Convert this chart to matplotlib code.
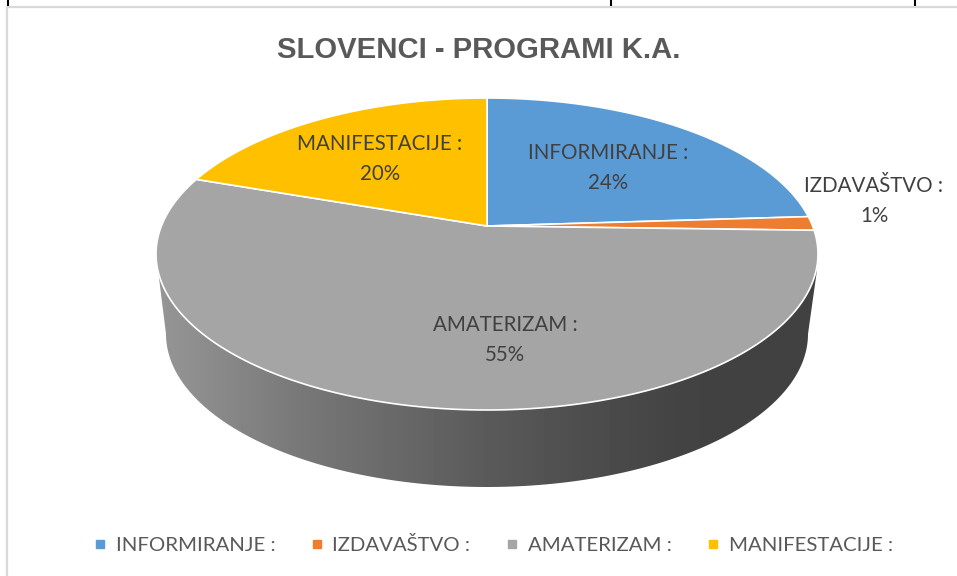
import numpy as np
import matplotlib.pyplot as plt
from matplotlib.lines import Line2D
from matplotlib.patches import Polygon

names = ['INFORMIRANJE :', 'IZDAVAŠTVO :', 'AMATERIZAM :', 'MANIFESTACIJE :']
values = [24.0, 1.45, 54.85, 19.7]
colors = ['#5B9BD5', '#ED7D31', '#A5A5A5', '#FFC000']
label_pos = [(608, 168), (874, 201), (505, 340), (380, 159)]
title = 'SLOVENCI - PROGRAMI K.A.'

W, H = 957, 576
# perspective view of the pie top: apex at (cx, cy), far rim up, near rim down
cx, cy = 487, 226
ax_r, by_r, k = 325.6, 110.4, 0.1795


def rim(theta):
    # theta in degrees clockwise from the top of the pie
    t = np.radians(theta)
    X, Y = np.sin(t), np.cos(t)
    w = 1 + k * Y
    return cx + ax_r * X / w, (cy - by_r * Y) / w


plt.rcParams['font.family'] = ['Lato', 'DejaVu Sans']
fig = plt.figure(figsize=(W / 100, H / 100), dpi=100)
ax = fig.add_axes([0, 0, 1, 1])

# side wall with horizontal gradient
t = np.radians(np.linspace(0, 180, 200))
low_x = 487 - 321 * np.cos(t)
low_y = 334 + 153 * np.sin(t)
wall = np.vstack([[[158, 270]], np.column_stack([low_x, low_y]), [[817, 270]], [[487, 254]]])
gx = np.arange(150, 830)
shade = np.interp(gx, [158, 300, 400, 487, 580, 680, 820], [150, 120, 104, 90, 78, 67, 65]) / 255
im = ax.imshow(shade[None, :], cmap='gray', vmin=0, vmax=1, aspect='auto',
               extent=[150, 830, 500, 250], zorder=1)
clip = Polygon(wall, closed=True, transform=ax.transData)
im.set_clip_path(clip)

# slices on top
start = 0
for v, c in zip(values, colors):
    th = np.linspace(start, start + v * 3.6, max(int(v * 8), 4))
    x, y = rim(th)
    ax.fill(np.r_[cx, x], np.r_[cy, y], color=c, ec='white', lw=1.2, zorder=2, joinstyle='round')
    start += v * 3.6

for n, v, p in zip(names, values, label_pos):
    ax.text(p[0], p[1], f'{n}\n{v:.0f}%', ha='center', va='center', fontsize=14.8,
            color='#404040', linespacing=1.6, zorder=3)

ax.text(479, 50, title, ha='center', va='center', fontsize=21.1, fontweight='bold',
        family='Liberation Sans', color='#595959')

handles = [Line2D([], [], ls='', marker='s', ms=5.5, color=c) for c in colors]
ax.legend(handles, names, ncol=4, loc='center', bbox_to_anchor=(494 / W, 1 - 545 / H), frameon=False,
          fontsize=14.7, labelcolor='#595959', handlelength=0.5, handletextpad=0.5,
          columnspacing=1.8, borderpad=0)

# frame of the chart object and the bits of table above it
ax.plot([7, 7, W], [H, 7, 7], color='#d9d9d9', lw=1.6, zorder=0)
ax.vlines([8, 611, 915], 0, 6, color='black', lw=1.5)

ax.set_xlim(0, W)
ax.set_ylim(H, 0)
ax.axis('off')
fig.savefig('out.png', dpi=100)
